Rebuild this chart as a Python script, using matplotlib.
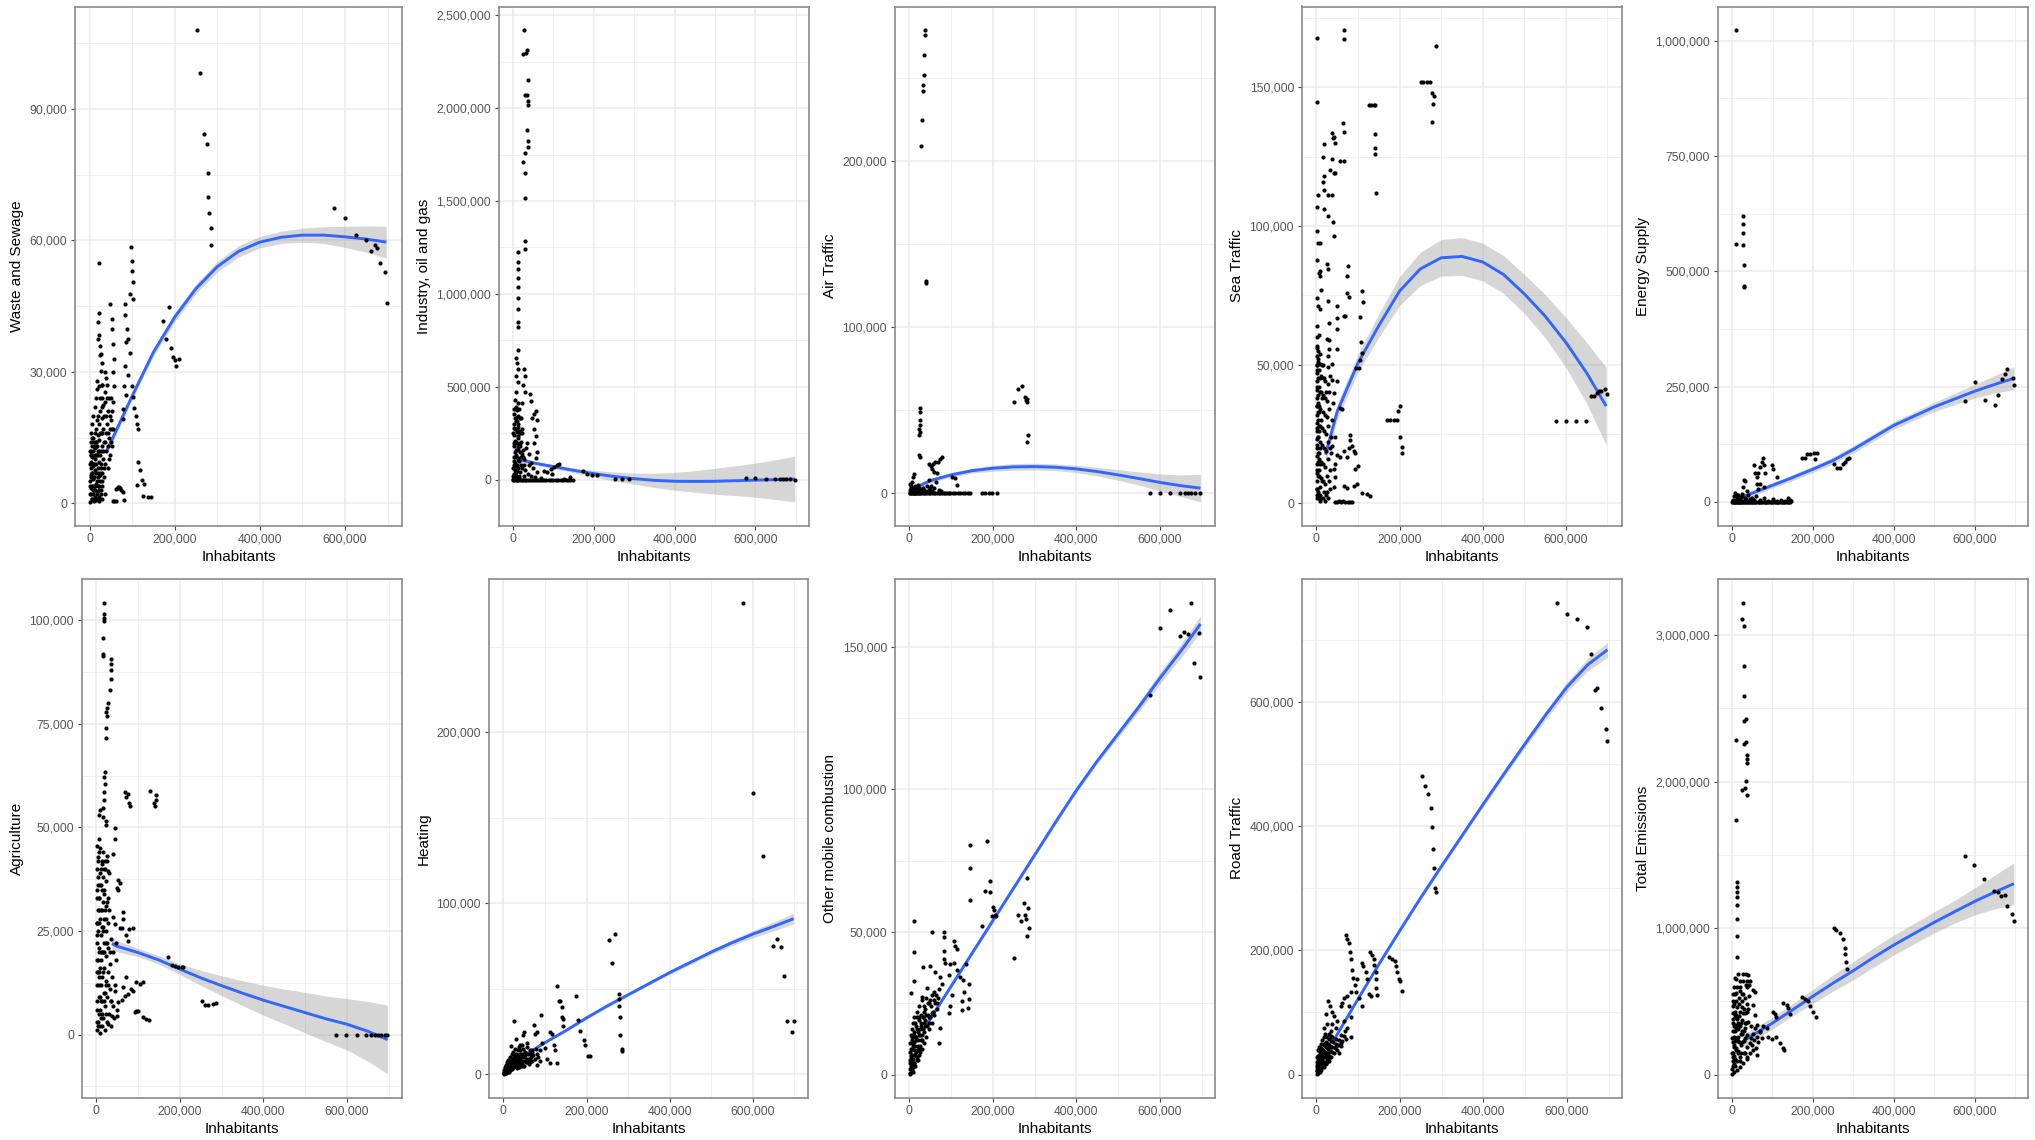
import matplotlib
matplotlib.use("Agg")
import matplotlib.pyplot as plt
from matplotlib.ticker import MultipleLocator, FuncFormatter
import numpy as np

plt.rcParams['font.family'] = ['Liberation Sans', 'DejaVu Sans']

# every value below is in thousands (inhabitants on x, emissions on y)

# ---- Waste and Sewage ----
waste_pts = [
    (0.5, 0.3), (1, 2), (1.5, 5), (2, 8), (2.5, 11), (3, 14), (1, 12), (2, 3.5), (3.5, 6.5), (4, 9.5),
    (4.5, 1), (5, 13), (5.5, 4), (6, 7), (6.5, 10.5), (7, 2), (7.5, 15), (8, 5.5), (8.5, 12), (9, 8.5),
    (9.5, 0.5), (10, 14), (10.5, 3), (11, 6), (11.5, 10), (12, 16), (12.5, 1.5), (13, 12.5), (13.5, 7.5),
    (14, 4.5), (14.5, 17), (15, 9), (15.5, 0.8), (16, 14), (16.5, 5), (17, 11), (17.5, 19), (18, 2.5),
    (18.5, 8), (19, 15.5), (19.5, 6), (20, 12), (21, 3), (21.5, 18), (22, 9.5), (22.5, 0.5), (23, 14.5),
    (24, 6.5), (24.5, 21), (25, 11), (26, 2), (26.5, 16), (27, 8), (28, 19.5), (28.5, 4), (29, 13),
    (30, 22), (31, 10), (32, 17), (33, 6), (34, 20), (35, 14), (36, 2), (37, 23), (38, 12), (40, 18),
    (42, 8), (44, 21), (46, 15), (48, 11), (50, 19), (52, 13), (55, 17), (58, 0.5), (62, 0.6),
    (66, 3.5), (70, 3.8), (74, 3), (78, 2.5), (80, 0.8), (56, 0.6),
    (3, 16), (6, 18), (9, 20), (12, 22), (15, 24), (18, 26), (2, 11), (4, 6), (7, 4), (10, 9), (13, 3),
    (16, 11), (19, 1), (22, 4), (25, 7), (28, 1), (30, 5), (33, 14), (36, 9), (39, 16), (42, 13),
    (45, 10), (48, 17), (50, 14), (53, 21), (45, 24), (40, 27), (35, 30), (30, 32), (26, 34),
    (0.5, 4), (1.5, 9), (2.5, 2), (3.5, 12), (4.5, 7), (5.5, 15), (6.5, 1), (7.5, 9), (8.5, 3),
    (9.5, 13), (10.5, 6), (11.5, 1), (12.5, 11), (13.5, 4), (14.5, 14), (15.5, 7), (16.5, 2), (17.5, 13),
    (18.5, 4), (19.5, 11), (20.5, 7), (21.5, 1.5), (22.5, 12), (23.5, 5), (24.5, 16), (25.5, 9),
    (26.5, 3), (27.5, 12), (28.5, 7), (29.5, 16), (20, 20), (24, 24), (28, 27), (32, 12), (34, 8),
    (38, 20), (41, 24), (44, 16), (47, 20), (50, 24), (52, 17),
    (22.6, 54.8), (23, 43.4), (19.5, 41.3), (23, 38.4), (18.7, 37.4), (25, 35.9), (25, 33.8),
    (26.5, 30.1), (17, 28), (21, 26.8), (28, 24), (30, 27), (32, 22.5), (35, 25.5), (38, 28.5),
    (48, 45.5), (52, 42), (53.5, 39.7), (56, 36.3), (57.5, 33), (56, 30), (57.5, 26.8), (55, 23),
    (96.5, 58.5), (99, 55.4), (100, 52.9), (101, 50.4), (103, 46.7), (94, 47.8), (83, 45.5), (83, 43),
    (87, 39.7), (90, 37.6), (86, 36.8), (94, 34.2), (83, 31.3), (90, 29.2), (81, 26.8), (98.6, 26.8),
    (103, 24.3), (78, 21.4), (79, 19.3), (86, 24.7), (104, 21.8), (108, 20), (111, 18), (113, 17),
    (114, 9.5), (118, 7.6), (111, 4.1), (122, 5.2), (128, 4.3), (126, 1.7), (137, 1.4), (145, 1.4),
    (62, 3.2), (66, 3.8), (72, 3.4), (173, 41.7), (186, 44.8), (179, 37.6), (192, 35.5), (196, 33.4),
    (200, 32.6), (204, 31.3), (209, 33),
    (253, 108), (260, 98.2), (268, 84.3), (276, 82.1), (278, 75.4), (279, 70), (281, 66.3), (285, 62.8),
    (286, 58.9),
    (575, 67.4), (600, 65), (626, 61.3), (649, 60), (660, 57.6), (670, 58.9), (676, 58.3), (683, 54.8),
    (695, 52.7), (699, 45.6),
]
waste_fit_x = [40, 50, 100, 150, 200, 250, 300, 350, 400, 450, 500, 550, 600, 650, 697]
waste_fit_y = [12.0, 14.0, 24.5, 34.5, 42.5, 49.0, 54.0, 57.5, 59.6, 60.7, 61.2, 61.2, 60.8, 60.3, 59.6]
waste_fit_se = [1.0, 0.9, 0.8, 0.9, 1.0, 1.1, 1.2, 1.3, 1.3, 1.4, 1.6, 1.9, 2.4, 3.0, 3.6]

# ---- Industry, oil and gas ----
industry_pts = [
    (28, 2420), (25, 2293), (31, 2295), (35, 2313), (36, 2149), (30, 2070), (35, 2070), (37, 2040),
    (38, 2015), (35, 1884), (37, 1825), (37, 1790), (30, 1757), (25, 1712), (30, 1653), (30, 1514),
    (30, 1287), (30, 1242),
    (11, 1223), (12, 1174), (11, 1135), (12, 1086), (11, 1037), (12, 978), (11, 919), (11, 851), (11, 822),
    (11, 698), (7, 655), (9, 626), (11, 597), (7, 558), (12, 528), (8, 470), (5, 430), (11, 411), (15, 382),
    (2, 352), (8, 313), (7, 274), (12, 235), (2, 196), (7, 157), (11, 117), (2, 78), (7, 39), (1, 20),
    (27, 597), (29, 558), (25, 509), (29, 470), (23, 411), (19, 333), (23, 274), (17, 196), (21, 137),
    (27, 78), (42, 460), (44, 421), (52, 352), (56, 372), (58, 323), (48, 333), (52, 274), (56, 235),
    (53, 196), (58, 147), (56, 117), (35, 196), (40, 137), (45, 88),
    (77, 49), (85, 39), (93, 59), (101, 68), (109, 78), (114, 82), (97, 29), (68, 10), (126, 4), (142, 12),
    (174, 45), (184, 29), (196, 23), (208, 25), (253, 4), (270, 4), (286, 4),
    (0.5, 5), (1, 60), (1.5, 120), (2, 180), (2.5, 240), (3, 300), (3.5, 30), (4, 90), (4.5, 150),
    (5, 210), (5.5, 270), (6, 330), (6.5, 390), (7, 15), (7.5, 75), (8, 135), (8.5, 195), (9, 255),
    (9.5, 315), (10, 375), (10.5, 45), (11, 105), (11.5, 165), (12, 225), (12.5, 285), (13, 345), (14, 20),
    (15, 100), (16, 180), (17, 250), (18, 40), (19, 120), (20, 200), (22, 60), (24, 160), (26, 20),
    (28, 110), (30, 50), (33, 170), (36, 30), (40, 80), (45, 20), (50, 60), (55, 15), (60, 40),
    (1, 250), (2, 30), (2, 280), (3, 100), (3, 380), (4, 200), (5, 50), (5, 330), (6, 120), (7, 200),
    (8, 20), (9, 80), (10, 160), (11, 300), (12, 60), (13, 180), (14, 260), (15, 10), (16, 330), (18, 150),
    (20, 80), (22, 250), (25, 120),
    (0, 0), (3, 0), (6, 0), (9, 0), (13, 0), (17, 0), (21, 0), (25, 0), (29, 0), (33, 0), (37, 0), (42, 0),
    (47, 0), (52, 0), (57, 0), (62, 0), (67, 0), (72, 0), (77, 0), (82, 0), (88, 0), (94, 0), (100, 0),
    (106, 0), (112, 0), (118, 0), (124, 0), (130, 0), (136, 0), (142, 0), (148, 0),
    (576, 8), (600, 8), (626, 6), (649, 2), (660, 1), (668, 1), (676, 1), (685, 1), (698, 0),
]
industry_fit_x = [16, 50, 100, 150, 200, 250, 300, 350, 400, 450, 500, 550, 600, 650, 698]
industry_fit_y = [108, 90, 70, 50, 32, 17, 5, -4, -9, -10, -9, -6, -3, 0, 3]
industry_fit_se = [14, 10, 10, 13, 18, 24, 30, 38, 48, 58, 70, 80, 92, 107, 123]

# ---- Air Traffic ----
air_pts = [
    (38, 279), (37, 276), (36, 264), (34, 252), (33, 246), (33, 242), (30, 225), (29, 209), (40, 128),
    (40, 126.5),
    (25, 51), (25, 49), (25, 44), (26, 41), (24, 38.4), (22, 35), (26, 36.6), (24, 23), (26, 22),
    (10, 11.4), (9, 9.9), (6, 6.6), (2, 5.5), (14, 4.4),
    (46, 17.5), (52, 16.4), (57, 17.5), (62, 18.6), (68, 19), (74, 20.4), (78, 22), (58, 13), (54, 14.3),
    (66, 12), (64, 6.6), (46, 7.7), (42, 4.4), (30, 2.2), (22, 3.3), (102, 9.9), (110, 9.4), (114, 4.8),
    (252, 55), (261, 62.5), (270, 64.7), (277, 58), (280, 56), (281, 55), (283, 57), (285, 35),
    (283, 30.7),
    (3, 1.5), (5, 3), (8, 2), (12, 1), (15, 3.5), (18, 2.5), (20, 5), (28, 1.5), (33, 3), (38, 1),
    (48, 2), (52, 4), (55, 1.5), (60, 3), (70, 2), (75, 1),
    (1, 2), (4, 4), (7, 1), (10, 3), (13, 2), (16, 1), (19, 3), (24, 2), (36, 2), (44, 1), (50, 3),
    (0.5, 0), (2, 0), (4, 0), (6, 0), (8, 0), (10, 0), (12, 0), (14, 0), (16, 0), (18, 0), (20, 0),
    (23, 0), (26, 0), (29, 0), (32, 0), (35, 0), (38, 0), (42, 0), (46, 0), (50, 0), (54, 0), (58, 0),
    (62, 0), (66, 0), (70, 0), (74, 0), (78, 0), (82, 0), (86, 0), (90, 0), (94, 0), (98, 0), (104, 0),
    (110, 0), (116, 0), (122, 0), (128, 0), (134, 0), (140, 0), (145, 0),
    (174, 0), (182, 0), (190, 0), (198, 0), (209, 0),
    (576, 0), (600, 0), (624, 0), (648, 0), (660, 0), (668, 0), (676, 0), (684, 0), (696, 0),
]
air_fit_x = [5, 50, 100, 150, 200, 250, 300, 350, 400, 450, 500, 550, 600, 650, 698]
air_fit_y = [2, 7.5, 11, 13.5, 15, 15.8, 16, 15.6, 14.6, 13, 11, 8.8, 6.5, 4.5, 3]
air_fit_se = [2.0, 1.4, 1.3, 1.5, 1.8, 2.0, 2.0, 2.0, 2.2, 2.6, 3.2, 4.0, 5.0, 6.5, 8.3]

# ---- Sea Traffic ----
sea_pts = [
    (2, 167.7), (2, 144.5), (66, 170.6), (66, 167.3), (287, 164.8), (251, 152), (257, 152), (265, 152),
    (273, 152), (277, 148), (283, 147), (280, 144), (279, 137.3), (126, 143.5), (131, 143.5),
    (138, 143.5), (142, 143.5), (142, 133), (142, 128), (140, 126), (144, 111.7),
    (2, 106.7), (4, 111), (2, 98), (4, 94), (10, 94), (2, 87.7), (6, 83), (10, 81.8), (12, 77), (2, 74),
    (4, 71), (9, 70), (2, 64), (1, 60), (6, 60.8), (2, 56.8), (9, 54), (4, 51), (10, 50.3),
    (18, 129.4), (17, 125), (18, 118), (17, 116), (18, 113), (18, 106), (29, 111), (38, 111), (29, 103.4),
    (41, 101.4), (42, 96.5), (33, 120), (38, 124), (40, 131.8), (38, 133.6), (42, 132), (44, 130),
    (42, 119), (46, 119), (58, 123.5), (66, 123.5), (65, 137), (66, 134), (26, 86.3), (28, 84.6),
    (8, 83.7), (28, 73), (30, 65), (30, 58.8), (25, 59.4), (30, 55.5), (28, 53), (38, 50.3), (50, 71.3),
    (50, 66.7), (50, 62.7), (49, 55.5), (66, 67.6), (70, 67.6), (74, 81.8), (76, 85.7), (74, 75.8),
    (78, 74.5), (58, 34.5), (62, 33.9), (38, 44.4), (50, 44), (42, 39.8),
    (110, 76.5), (112, 72.6), (106, 67.3), (107, 58), (110, 54.2), (106, 51.6), (96, 48.7), (102, 48.7),
    (80, 24.7), (80, 22.7), (86, 20.7), (90, 18.8), (92, 18), (78, 19.8), (94, 12.2), (99, 13.5),
    (98, 7), (90, 6.3), (66, 6.3), (74, 5.6), (110, 3.7), (122, 3.3), (130, 2.8), (46, 24), (38, 20.7),
    (50, 17.5), (42, 12.2), (46, 9.6), (58, 16.8), (66, 19), (74, 16.8),
    (170, 30), (178, 30), (186, 30), (194, 30), (196, 33.2), (200, 35.2), (202, 24), (206, 20.3),
    (207, 18),
    (576, 29.5), (600, 29.5), (624, 29.5), (648, 29.5), (660, 38.8), (668, 38.8), (676, 39.8),
    (680, 40.4), (684, 40.4), (693, 41.3), (700, 39.5),
    (0.5, 2), (1, 8), (1.5, 14), (2, 21), (2.5, 27), (3, 33), (3.5, 39), (4, 45), (1, 48), (2, 42),
    (3, 36), (4, 30), (5, 24), (6, 18), (7, 12), (8, 6), (9, 1), (5, 4), (6, 10), (7, 16), (8, 22),
    (9, 28), (10, 34), (11, 40), (12, 46), (13, 50), (10, 3), (11, 9), (12, 15), (13, 21), (14, 27),
    (15, 33), (16, 39), (17, 45), (15, 2), (16, 8), (17, 14), (18, 20), (19, 26), (20, 32), (21, 38),
    (22, 44), (20, 1), (21, 7), (22, 13), (23, 19), (24, 25), (25, 31), (26, 37), (27, 43), (28, 49),
    (25, 4), (26, 10), (27, 16), (28, 22), (29, 28), (30, 34), (31, 40), (32, 46), (33, 5), (34, 12),
    (35, 18), (36, 24), (38, 30), (40, 36), (42, 6), (44, 14), (46, 0.5), (50, 0.5), (55, 1), (60, 0.5),
    (65, 1), (70, 0.5), (75, 0.5), (80, 0.5), (85, 0.5),
    (0.5, 5), (0.5, 11), (0.5, 17), (0.5, 23), (0.5, 29), (0.5, 35), (0.5, 41), (0.5, 47), (0.5, 53),
    (1.5, 3), (1.5, 20), (1.5, 26), (1.5, 32), (1.5, 38), (1.5, 44), (1.5, 50), (1.5, 56), (2.5, 5),
    (2.5, 12), (2.5, 35), (2.5, 50), (3.5, 18), (3.5, 24), (3.5, 55), (4.5, 10), (4.5, 15), (4.5, 52),
    (5.5, 28), (5.5, 35), (5.5, 42), (6.5, 2), (6.5, 48), (7.5, 26), (7.5, 33), (8.5, 40), (8.5, 14),
    (9.5, 20), (9.5, 45), (11, 2), (12, 30), (13, 38), (14, 8), (16, 50), (18, 4), (19, 45), (24, 40),
    (23, 3), (27, 2), (30, 8), (32, 20),
]
sea_fit_x = [22, 50, 100, 150, 200, 250, 300, 350, 400, 450, 500, 550, 600, 650, 697]
sea_fit_y = [17.5, 33, 50.5, 64, 76.5, 84.5, 88.5, 89, 87, 82.5, 75.5, 67.5, 58, 47, 35]
sea_fit_se = [3, 2.8, 3.2, 4.2, 5.2, 6, 6.6, 6.8, 6.8, 6.8, 7, 7.8, 9, 11, 14]

# ---- Energy Supply ----
energy_pts = [
    (9, 1023), (9, 560), (28, 620), (26, 602), (28, 584), (28, 558), (29, 514), (30, 465), (30, 469),
    (53, 79), (30, 47), (32, 46), (28, 31.5), (36, 23.7), (57, 63), (61, 55), (65, 63), (69, 75), (73, 87),
    (76, 95), (78, 79), (81, 63), (69, 39), (78, 31.5), (98, 79), (102, 71), (110, 55), (65, 27.6),
    (61, 39), (12, 16), (7, 19.7), (24, 12),
    (172, 96), (181, 96), (185, 104), (193, 104), (202, 106), (210, 106), (206, 93),
    (251, 83), (259, 72.5), (267, 72.5), (275, 83), (280, 87), (284, 93), (288, 96),
    (576, 219), (600, 261), (625, 221), (649, 210), (658, 232), (667, 266), (675, 277), (681, 289),
    (694, 268), (697, 254),
    (2, 5), (5, 12), (8, 3), (12, 8), (15, 15), (18, 4), (22, 10), (25, 18), (35, 6), (40, 14), (45, 3),
    (50, 9), (55, 4), (60, 12), (70, 5), (80, 8), (90, 3), (100, 6), (110, 2), (120, 4), (130, 3),
    (138, 8), (142, 5), (145, 2),
    (3, 3), (6, 2), (10, 5), (14, 1), (20, 6), (28, 3), (33, 8), (38, 2), (44, 6), (48, 1),
    (0, 0), (4, 0), (8, 0), (12, 0), (16, 0), (20, 0), (25, 0), (30, 0), (35, 0), (40, 0), (45, 0),
    (50, 0), (55, 0), (60, 0), (66, 0), (72, 0), (78, 0), (84, 0), (90, 0), (96, 0), (102, 0), (108, 0),
    (114, 0), (120, 0), (126, 0), (132, 0), (138, 0), (144, 0),
    (2, 0), (6, 0), (10, 0), (14, 0), (18, 0), (22, 0), (27, 0), (32, 0), (37, 0), (42, 0), (47, 0),
    (52, 0), (57, 0), (63, 0), (69, 0), (75, 0), (81, 0), (87, 0), (93, 0), (99, 0), (105, 0), (111, 0),
    (117, 0), (123, 0), (129, 0), (135, 0), (141, 0),
]
energy_fit_x = [28, 50, 100, 150, 200, 250, 300, 350, 400, 450, 500, 550, 600, 650, 697]
energy_fit_y = [12, 19, 36, 53, 71, 90, 114, 140, 166, 186, 206, 223, 240, 255, 268]
energy_fit_se = [7, 6.5, 6, 6.5, 7, 7.5, 8, 8, 8, 9, 10, 12, 15, 19, 25]

# ---- Agriculture ----
agri_pts = [
    (19, 104.3), (19, 101.5), (18, 100.6), (19, 99.8), (17, 95.8), (15, 91.9), (17, 91.4), (34, 90.6),
    (35, 89.4), (35, 87.9), (35, 85.8), (33, 83.1), (29, 80), (26, 78.9), (23, 77.9), (25, 77),
    (23, 74.1), (23, 71.7), (21, 63.4), (19, 62.1), (21, 60.4), (19, 58.6), (19, 56.6), (17, 54.6),
    (9, 54.2), (7, 52.9), (17, 52.5), (23, 51.6), (23, 50.7), (45, 49.9), (45, 47.2), (41, 43.7),
    (7, 47.2), (1, 45.5), (5, 42.9), (13, 41.1), (25, 42), (29, 39.4), (53, 37.2), (57, 36.7), (53, 35),
    (49, 35.4), (64, 29.7), (63, 28), (61, 25.8), (57, 25.8), (41, 28.4), (45, 26.7), (79, 25.4),
    (87, 25.8), (72, 24), (76, 22.7),
    (68, 58.5), (76, 58.2), (72, 57.3), (79, 56), (81, 55.3), (128, 58.8), (142, 57.8), (144, 56.7),
    (138, 56), (141, 55.3),
    (172, 18.8), (180, 16.8), (188, 16.6), (196, 16.2), (204, 16.2), (208, 16.4),
    (252, 8), (260, 7.2), (268, 7.2), (279, 7.4), (286, 7.6),
    (96, 12.7), (104, 12.2), (112, 12.7), (88, 10.5), (84, 10.9), (76, 9.8), (68, 9.2), (61, 8.3),
    (53, 7.9), (96, 5.7), (100, 5.7), (92, 5.4), (112, 4.2), (120, 3.8), (126, 3.5), (72, 14), (64, 11.4),
    (45, 10.5), (41, 7), (37, 4.4), (29, 2.6), (49, 4.4),
    (574, 0), (598, 0), (623, 0), (646, 0), (658, 0), (666, 0), (674, 0), (682, 0), (690, 0), (695, 0),
    (0.5, 1), (1, 6), (1.5, 12), (2, 18), (2.5, 24), (3, 30), (3.5, 36), (4, 42), (5, 3), (5.5, 9),
    (6, 15), (6.5, 21), (7, 27), (7.5, 33), (8, 39), (8.5, 45), (9, 0.5), (9.5, 6), (10, 12), (10.5, 18),
    (11, 24), (11.5, 30), (12, 36), (12.5, 42), (13, 2), (13.5, 8), (14, 14), (14.5, 20), (15, 26),
    (15.5, 32), (16, 38), (16.5, 44), (17, 4), (17.5, 10), (18, 16), (18.5, 22), (19, 28), (19.5, 34),
    (20, 40), (21, 1), (21.5, 7), (22, 13), (22.5, 19), (23, 25), (23.5, 31), (24, 37), (25, 43), (26, 3),
    (26.5, 9), (27, 15), (27.5, 21), (28, 27), (29, 33), (30, 39), (31, 5), (32, 11), (33, 17), (34, 23),
    (35, 2), (36, 8), (38, 14), (40, 20), (42, 4), (44, 12), (46, 18), (48, 22), (50, 6),
    (2, 27), (4, 15), (6, 33), (8, 9), (10, 40), (12, 4), (14, 30), (16, 20), (18, 35), (20, 10),
    (22, 28), (24, 5), (26, 22), (28, 12), (30, 30), (32, 20), (34, 8),
    (0.5, 15), (0.5, 22), (0.5, 35), (1.5, 3), (1.5, 27), (1.5, 40), (2.5, 8), (2.5, 33), (3.5, 18),
    (3.5, 2), (4.5, 25), (4.5, 38), (5.5, 14), (5.5, 44), (6.5, 5), (6.5, 30), (7.5, 20), (7.5, 12),
    (8.5, 28), (8.5, 2), (9.5, 36), (9.5, 16), (10.5, 8), (11.5, 20), (12.5, 26), (13.5, 35), (14.5, 5),
    (15.5, 15), (16.5, 25), (17.5, 40), (18.5, 8), (19.5, 20), (20.5, 30), (21.5, 42), (22.5, 12),
    (23.5, 22), (24.5, 32),
]
agri_fit_x = [37, 50, 100, 150, 200, 250, 300, 350, 400, 450, 500, 550, 600, 650, 697]
agri_fit_y = [22, 21.3, 19.8, 18, 15.8, 13.7, 11.8, 10, 8.3, 6.8, 5.3, 3.8, 2.5, 0.8, -1.2]
agri_fit_se = [1.6, 1.3, 1.0, 1.0, 1.3, 1.8, 2.4, 3.0, 3.6, 4.2, 4.9, 5.5, 6.2, 7.2, 8.3]

# ---- Heating ----
heating_pts = [
    (576, 276), (600, 164.7), (624, 128), (648, 74.9), (658, 79), (668, 74.3), (674, 57.4), (682, 31.3),
    (698, 30.9), (694, 24.5),
    (253, 78.7), (269, 82.3), (261, 65.3), (277, 47.2), (279, 44), (278, 39.8), (281, 33.8), (281, 22.8),
    (285, 14.7), (286, 13.8),
    (175, 45.7), (179, 31.9), (185, 25.5), (193, 20.2), (197, 17.4), (203, 10.6), (209, 10.4),
    (129, 51.5), (133, 43), (137, 43), (140, 39.4), (141, 33.4), (144, 32.3), (143, 28.1), (121, 17.4),
    (125, 14.3), (129, 6.8), (117, 23.8), (113, 24.5),
    (26, 30.9), (91, 34.5), (73, 28.7), (77, 23.8), (81, 24.9), (49, 24.9), (48, 22.8), (30, 20.6),
    (57, 18.5), (41, 17.4), (18, 16.4), (69, 14.3), (93, 18.5), (99, 15.3), (105, 8.9), (113, 6.8),
    (89, 7.9), (81, 5.7),
    (0.3, 0.2), (1, 1), (2, 2.5), (3, 0.8), (4, 4), (5, 2), (6, 5.5), (7, 1), (8, 3.5), (9, 7), (10, 2),
    (11, 5), (12, 8.5), (13, 1.5), (14, 4), (15, 6.5), (16, 10), (17, 2.5), (18, 5), (19, 8), (20, 12),
    (21, 3), (22, 6), (23, 9.5), (24, 13), (25, 4), (26, 7), (27, 11), (28, 15), (29, 5), (30, 8),
    (31, 12), (32, 3.5), (33, 9), (34, 14), (35, 6), (36, 10), (37, 16), (38, 4.5), (39, 12), (40, 7.5),
    (41, 14), (42, 5), (43, 10), (44, 17), (45, 6), (46, 12), (47, 8), (48, 15), (49, 5), (50, 10),
    (52, 13), (54, 7), (56, 16), (58, 9), (60, 12), (62, 6), (64, 14), (66, 10), (68, 8), (70, 13),
    (72, 11), (75, 9), (78, 15), (80, 12), (84, 10), (88, 14),
    (0.5, 1.5), (1.5, 0.5), (2.5, 1), (3.5, 2.5), (4.5, 3), (5.5, 1), (6.5, 3), (7.5, 5), (8.5, 1.5),
    (9.5, 4), (10.5, 6), (11.5, 3), (12.5, 5), (13.5, 7), (14.5, 2), (15.5, 4), (16.5, 6), (17.5, 8),
    (18.5, 3), (19.5, 5), (20.5, 7), (21.5, 9), (22.5, 4), (23.5, 6), (24.5, 8), (25.5, 10), (27, 6),
    (29, 9), (31, 7), (33, 5), (35, 11), (37, 8), (39, 6), (41, 9), (43, 7), (45, 11), (47, 5), (51, 8),
    (53, 11), (57, 7), (61, 9), (65, 7), (67, 12),
]
heating_fit_x = [30, 50, 100, 150, 200, 250, 300, 350, 400, 450, 500, 550, 600, 650, 698]
heating_fit_y = [8.5, 11, 18.5, 25.5, 33, 40, 46.5, 53, 59.5, 65.5, 71.5, 77, 82, 86.5, 91]
heating_fit_se = [0.6, 0.6, 0.6, 0.7, 0.8, 0.8, 0.9, 0.9, 1.0, 1.2, 1.4, 1.7, 2.1, 2.6, 3.2]

# ---- Other mobile combustion ----
mobile_pts = [
    (575, 133.2), (600, 156.6), (624, 163), (648, 153.8), (658, 155.3), (666, 154.4), (674, 165.5),
    (682, 144.3), (693, 154.8), (697, 139.5),
    (251, 40.7), (260, 56), (268, 53.9), (275, 60.2), (277, 55.8), (280, 54.7), (281, 68.8), (281, 48.5),
    (284, 58.3), (286, 51.3),
    (174, 52.2), (180, 64.3), (186, 81.9), (193, 63.9), (194, 67.7), (198, 55.5), (200, 58.9),
    (202, 57.7), (204, 56), (208, 55.7),
    (144, 80.6), (144, 72.3), (144, 61.2), (122, 34.1), (128, 33.1), (130, 29), (126, 25.8), (142, 31.6),
    (142, 26.5), (140, 23.3), (126, 22.7),
    (10, 53.9), (10, 43), (54, 50), (82, 49.8), (84, 48.1), (106, 46.9), (110, 45), (114, 44.1),
    (84, 43.3), (82, 40.5), (86, 39.2), (98, 38.6), (106, 39.2), (136, 38.8), (50, 38.2), (32, 37.7),
    (10, 32.8), (4, 28.6), (62, 36), (74, 34.1), (78, 31.6), (94, 34.8), (114, 36.7), (102, 27.8),
    (98, 23.9), (94, 21.4), (74, 16.3), (72, 11.2), (58, 29), (66, 25.2), (42, 30.3), (30, 27.1),
    (54, 21.4), (46, 18.2),
    (0.3, 0.2), (1, 2), (1.5, 5), (2, 8), (2.5, 11), (3, 14), (3.5, 3), (4, 6), (4.5, 9), (5, 12),
    (5.5, 16), (6, 1.5), (6.5, 4), (7, 7), (7.5, 10), (8, 13), (8.5, 18), (9, 2.5), (9.5, 5.5), (10, 8.5),
    (10.5, 11.5), (11, 15), (11.5, 20), (12, 4), (13, 7), (14, 10), (15, 13), (16, 17), (17, 22), (18, 5),
    (19, 8.5), (20, 12), (21, 15), (22, 19), (23, 24), (24, 7), (25, 10), (26, 14), (27, 18), (28, 21),
    (29, 26), (30, 9), (31, 12), (32, 16), (33, 20), (34, 24), (35, 11), (36, 15), (37, 19), (38, 23),
    (39, 27), (40, 13), (42, 17), (44, 21), (46, 25), (48, 16), (50, 20), (52, 24), (54, 18), (56, 22),
    (58, 26), (60, 21), (62, 25), (64, 28), (66, 23), (68, 27), (70, 30),
    (1, 0.5), (2, 4), (3, 7), (4, 2), (5, 5), (6, 9), (7, 13), (8, 1), (9, 11), (10, 4), (11, 7), (12, 14),
    (13, 18), (14, 3), (15, 8), (16, 12), (17, 6), (18, 16), (19, 20), (20, 5), (21, 10), (22, 14),
    (23, 9), (24, 20), (25, 16), (26, 8), (27, 12), (28, 17), (30, 14), (32, 20), (34, 18), (36, 22),
    (38, 17), (40, 21), (44, 25), (46, 20), (50, 26), (55, 28),
]
mobile_fit_x = [40, 50, 100, 150, 200, 250, 300, 350, 400, 450, 500, 550, 600, 650, 697]
mobile_fit_y = [17, 19.5, 31, 42.5, 54, 65.5, 77, 88.5, 99.7, 110, 119.5, 129, 139, 148.5, 158]
mobile_fit_se = [0.7, 0.6, 0.6, 0.6, 0.7, 0.7, 0.8, 0.8, 0.9, 1.0, 1.3, 1.6, 2.0, 2.4, 2.8]

# ---- Road Traffic ----
road_pts = [
    (576, 760), (600, 741), (624, 733), (648, 721), (658, 677), (666, 620), (672, 623), (681, 591),
    (693, 556), (697, 537),
    (252, 480), (261, 465), (268, 451), (275, 429), (278, 398), (280, 363), (281, 332), (284, 300),
    (286, 294),
    (174, 189), (182, 186), (187, 183), (191, 174), (194, 165), (197, 154), (200, 151), (206, 135),
    (128, 197), (134, 192), (138, 186), (139, 177), (142, 165), (143, 154), (142, 139), (146, 128),
    (122, 154), (126, 130), (130, 126),
    (70, 224), (74, 218), (78, 212), (80, 197), (82, 186), (86, 168), (88, 156), (92, 145), (94, 133),
    (108, 180), (112, 174), (118, 165), (98, 154), (102, 124), (110, 110), (82, 133), (74, 127), (66, 124),
    (62, 116), (58, 110), (78, 110), (82, 92), (84, 60), (74, 75), (66, 87), (50, 87), (46, 75), (28, 119),
    (33, 110), (38, 101), (42, 95), (38, 81), (22, 98), (26, 81), (17, 75), (54, 34), (46, 46), (58, 51),
    (38, 60), (30, 48),
    (0.3, 1), (1, 5), (1.5, 12), (2, 20), (2.5, 28), (3, 3), (3.5, 9), (4, 16), (4.5, 24), (5, 32),
    (6, 6), (6.5, 13), (7, 21), (7.5, 29), (8, 37), (9, 4), (9.5, 11), (10, 18), (10.5, 26), (11, 34),
    (11.5, 42), (12, 8), (13, 15), (14, 23), (15, 31), (16, 39), (17, 47), (18, 12), (19, 20), (20, 28),
    (21, 36), (22, 44), (23, 52), (24, 17), (25, 25), (26, 33), (27, 41), (28, 49), (29, 57), (30, 22),
    (31, 30), (32, 38), (33, 46), (34, 54), (35, 62), (36, 28), (37, 36), (38, 44), (40, 52), (42, 34),
    (44, 42), (46, 50), (48, 58), (50, 40), (52, 48), (55, 56), (58, 64), (60, 46), (62, 54), (65, 62),
    (68, 70), (70, 58),
    (1, 15), (2, 8), (3, 30), (4, 40), (5, 10), (6, 25), (7, 45), (8, 15), (9, 32), (10, 50), (11, 10),
    (12, 25), (13, 40), (14, 55), (15, 18), (16, 28), (17, 60), (18, 35), (19, 50), (20, 65), (21, 18),
    (22, 30), (24, 48), (25, 60), (26, 20), (28, 35), (30, 65), (32, 28), (34, 45), (36, 70),
]
road_fit_x = [40, 50, 100, 150, 200, 250, 300, 350, 400, 450, 500, 550, 600, 650, 697]
road_fit_y = [54, 65, 122, 178, 232, 285, 336, 386, 436, 485, 533, 580, 624, 660, 684]
road_fit_se = [1.5, 1.5, 1.7, 2, 2.5, 3, 3.5, 4, 4.5, 5, 6, 7, 8, 10, 12]

# ---- Total Emissions ----
total_pts = [
    (28, 3223), (26, 3112), (29, 3062), (29, 2792), (29, 2586), (30, 2413), (35, 2425), (30, 2256),
    (35, 2269), (36, 2182), (36, 2152), (36, 2127), (35, 2008), (26, 1941), (32, 1954), (36, 1909),
    (9, 2284), (10, 1736),
    (12, 1314), (12, 1284), (12, 1247), (12, 1210), (12, 1160), (12, 1061), (12, 950), (12, 806),
    (252, 1004), (258, 987), (267, 970), (275, 925), (279, 863), (280, 826), (282, 769), (285, 719),
    (172, 528), (181, 516), (189, 503), (193, 466), (201, 429), (207, 397),
    (127, 491), (135, 479), (139, 454), (143, 417), (102, 429), (106, 417), (110, 392),
    (575, 1495), (598, 1428), (624, 1339), (648, 1252), (658, 1247), (666, 1217), (675, 1227),
    (680, 1153), (693, 1098), (697, 1049),
    (28, 689), (40, 677), (36, 640), (53, 578), (57, 565), (53, 479), (57, 404), (61, 342), (69, 293),
    (77, 330), (86, 317), (90, 255), (98, 243), (110, 255), (119, 218), (125, 181), (129, 169), (36, 429),
    (32, 355), (24, 280), (44, 218), (53, 169), (61, 131), (36, 119), (20, 94), (12, 243), (3, 466),
    (2, 503), (7, 392), (16, 342), (8, 660), (14, 690), (20, 640), (42, 610),
    (0.3, 5), (1, 40), (1.5, 90), (2, 150), (2.5, 220), (3, 300), (3.5, 380), (4, 20), (4.5, 70),
    (5, 130), (5.5, 190), (6, 260), (6.5, 340), (7, 430), (8, 60), (8.5, 110), (9, 170), (9.5, 240),
    (10, 320), (10.5, 410), (11, 500), (12, 30), (13, 90), (14, 160), (15, 230), (16, 310), (17, 400),
    (18, 480), (19, 570), (20, 50), (21, 120), (22, 200), (23, 280), (24, 370), (25, 460), (26, 550),
    (27, 640), (28, 80), (29, 150), (30, 230), (31, 320), (32, 420), (33, 520), (34, 610), (35, 690),
    (36, 110), (37, 190), (38, 270), (39, 360), (40, 450), (42, 540), (44, 640), (45, 150), (46, 250),
    (48, 330), (50, 200), (52, 280), (55, 240), (58, 320), (60, 180), (62, 260), (65, 220), (70, 300),
    (75, 250),
    (0.5, 150), (1, 250), (1.5, 350), (2, 60), (2, 420), (3, 120), (3, 550), (4, 200), (4, 480), (5, 330),
    (5, 600), (6, 100), (6, 420), (7, 230), (7, 550), (8, 300), (9, 400), (9, 650), (10, 180), (10, 560),
    (11, 250), (12, 380), (13, 460), (13, 600), (14, 260), (15, 350), (16, 150), (17, 520), (18, 220),
    (19, 330), (20, 430), (21, 600), (22, 350), (23, 150), (24, 500), (25, 220), (26, 300), (27, 420),
    (28, 550), (29, 300), (30, 450), (31, 150), (33, 250), (34, 350), (37, 480), (38, 600),
]
total_fit_x = [28, 50, 100, 150, 200, 250, 300, 350, 400, 450, 500, 550, 600, 650, 697]
total_fit_y = [231, 268, 352, 443, 535, 625, 710, 800, 885, 963, 1040, 1112, 1183, 1247, 1304]
total_fit_se = [45, 42, 40, 42, 48, 55, 62, 66, 68, 70, 72, 78, 92, 115, 143]

labels = ["Waste and Sewage", "Industry, oil and gas", "Air Traffic", "Sea Traffic", "Energy Supply",
          "Agriculture", "Heating", "Other mobile combustion", "Road Traffic", "Total Emissions"]
y_steps = [30, 500, 100, 50, 250, 25, 100, 50, 200, 1000]

panels = [
    (waste_pts, waste_fit_x, waste_fit_y, waste_fit_se),
    (industry_pts, industry_fit_x, industry_fit_y, industry_fit_se),
    (air_pts, air_fit_x, air_fit_y, air_fit_se),
    (sea_pts, sea_fit_x, sea_fit_y, sea_fit_se),
    (energy_pts, energy_fit_x, energy_fit_y, energy_fit_se),
    (agri_pts, agri_fit_x, agri_fit_y, agri_fit_se),
    (heating_pts, heating_fit_x, heating_fit_y, heating_fit_se),
    (mobile_pts, mobile_fit_x, mobile_fit_y, mobile_fit_se),
    (road_pts, road_fit_x, road_fit_y, road_fit_se),
    (total_pts, total_fit_x, total_fit_y, total_fit_se),
]

# panel boxes in pixels: left, right, top, bottom
W, H = 2035, 1140
boxes = [
    (75, 402, 6.5, 525.5), (499, 809, 6.5, 525.5), (895, 1215, 6.5, 525.5), (1302, 1622, 6.5, 525.5),
    (1718, 2028, 6.5, 525.5),
    (82, 402, 579, 1097.5), (489, 808, 579, 1097.5), (895, 1215, 579, 1097.5), (1302, 1622, 579, 1097.5),
    (1718, 2028, 579, 1097.5),
]

comma = FuncFormatter(lambda v, _: f"{v:,.0f}")

fig = plt.figure(figsize=(W / 100, H / 100), dpi=100)
fig.patch.set_facecolor('white')

for (pts, fx, fy, fse), label, step, (l, r, t, b) in zip(panels, labels, y_steps, boxes):
    ax = fig.add_axes([l / W, 1 - b / H, (r - l) / W, (b - t) / H])
    px = np.array([p[0] for p in pts]) * 1000
    py = np.array([p[1] for p in pts]) * 1000
    fx = np.array(fx) * 1000
    fy = np.array(fy) * 1000
    fse = np.array(fse) * 1000

    ax.fill_between(fx, fy - fse, fy + fse, color='#999999', alpha=0.4, lw=0, zorder=2)
    ax.plot(fx, fy, color='#3366FF', lw=2.1, zorder=3, solid_capstyle='butt', solid_joinstyle='round')
    ax.scatter(px, py, s=9, color='black', lw=0, zorder=4)

    # ggplot-style 5% expansion
    xlo, xhi = min(px.min(), fx.min()), max(px.max(), fx.max())
    ylo = min(py.min(), (fy - fse).min())
    yhi = max(py.max(), (fy + fse).max())
    ax.set_xlim(xlo - 0.05 * (xhi - xlo), xhi + 0.05 * (xhi - xlo))
    ax.set_ylim(ylo - 0.05 * (yhi - ylo), yhi + 0.05 * (yhi - ylo))

    ax.xaxis.set_major_locator(MultipleLocator(200000))
    ax.xaxis.set_minor_locator(MultipleLocator(100000))
    ax.yaxis.set_major_locator(MultipleLocator(step * 1000))
    ax.yaxis.set_minor_locator(MultipleLocator(step * 500))
    ax.xaxis.set_major_formatter(comma)
    ax.yaxis.set_major_formatter(comma)

    ax.grid(which='major', color='#EBEBEB', lw=1.1)
    ax.grid(which='minor', color='#EBEBEB', lw=0.55)
    ax.set_axisbelow(True)
    for sp in ax.spines.values():
        sp.set_color('#8a8a8a')
        sp.set_linewidth(1.2)
    ax.tick_params(which='major', length=2.75, width=0.8, color='#444444', labelsize=8.8,
                   labelcolor='#555555', pad=3.0)
    ax.tick_params(which='minor', length=0)

    ax.set_xlabel("Inhabitants", fontsize=11, labelpad=3)
    ax.set_ylabel(label, fontsize=11, labelpad=4)

fig.savefig("out.png", dpi=100, facecolor='white')
